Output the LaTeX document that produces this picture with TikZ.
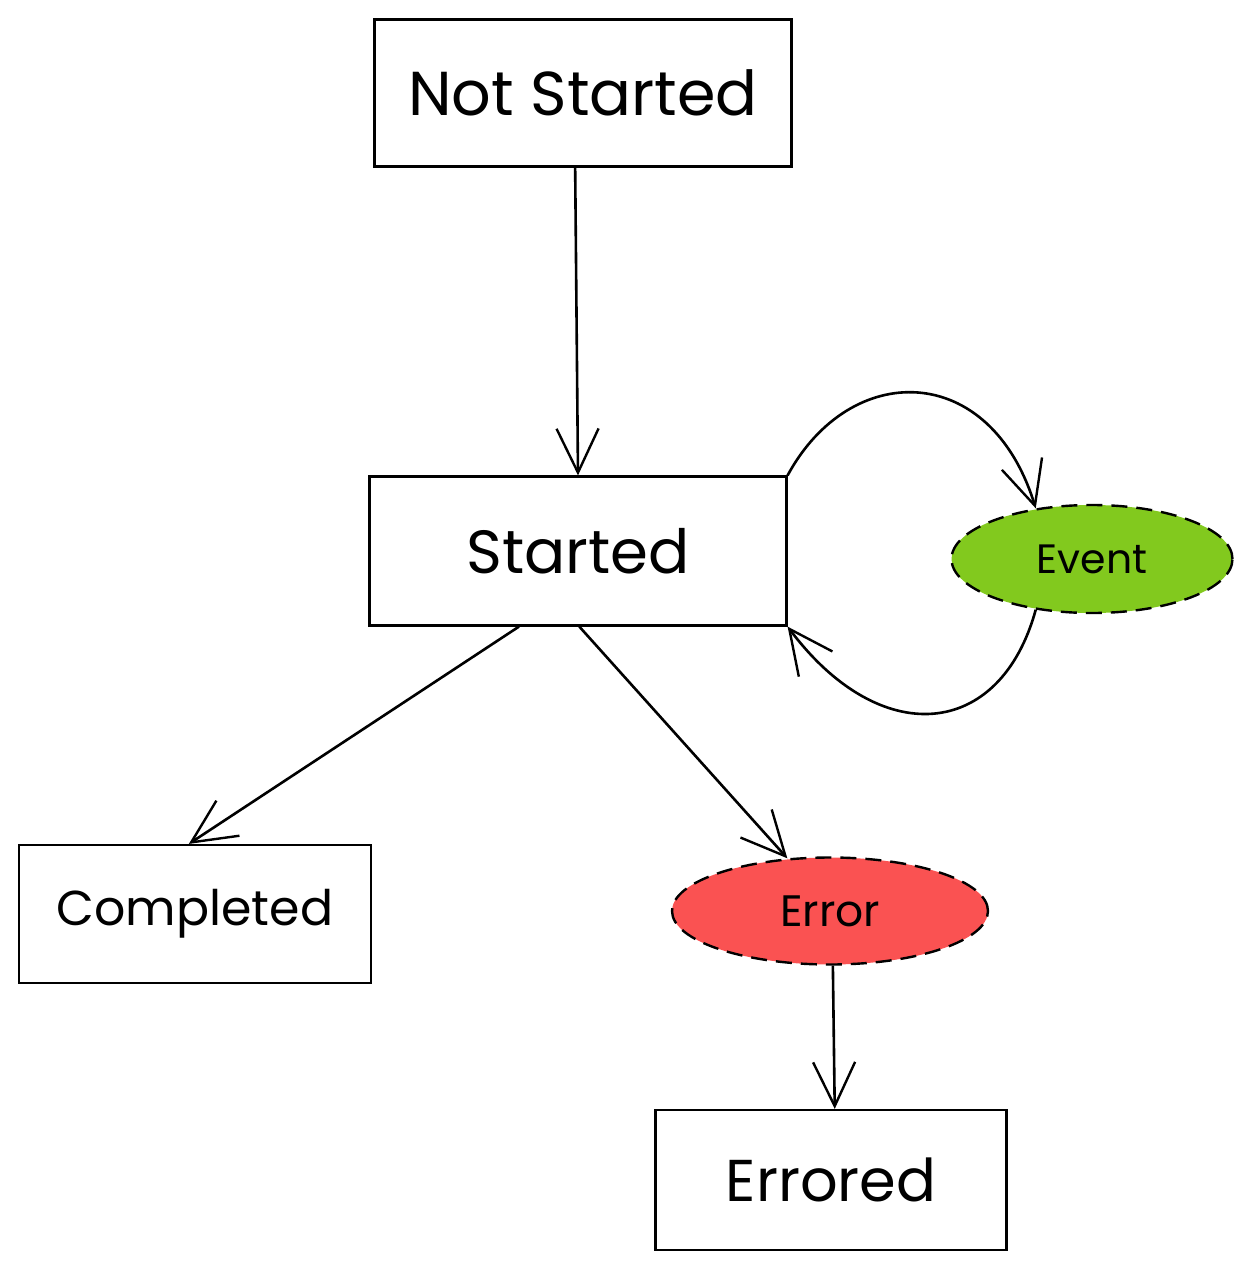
\documentclass[tikz,border=0pt]{standalone}
\usepackage{fontspec}
\setmainfont{Poppins}
\usetikzlibrary{arrows.meta,shapes.geometric}
\definecolor{evgreen}{HTML}{82C91E}
\definecolor{errred}{HTML}{FA5252}
\newcommand{\fsz}[1]{\fontsize{#1}{#1}\selectfont}
\begin{document}
\begin{tikzpicture}[x=1pt,y=-1pt,
  box/.style={draw,line width=2.2pt,rectangle,inner sep=0pt},
  oval/.style={draw,ellipse,line width=2.4pt,dash pattern=on 16pt off 9pt,inner sep=0pt},
  link/.style={line width=2.6pt,-{Straight Barb[length=44pt,width=42pt,line width=2.4pt]}}]
\useasboundingbox (0,0) rectangle (1253,1269);
\node[box,font=\fsz{62},minimum width=417pt,minimum height=147pt] (ns) at (583,93) {Not Started};
\node[box,font=\fsz{61},minimum width=417pt,minimum height=149pt] (st) at (578,551) {Started};
\node[oval,font=\fsz{41},fill=evgreen,minimum width=281pt,minimum height=108pt] (ev) at (1092,559) {Event};
\node[box,font=\fsz{49},minimum width=352pt,minimum height=138pt] (co) at (195,914) {Completed};
\node[oval,font=\fsz{44},fill=errred,minimum width=316pt,minimum height=107pt] (er) at (830,911) {Error};
\node[box,font=\fsz{59},minimum width=351pt,minimum height=140pt] (ed) at (831,1180) {Errored};
\draw[link] (ns.-96) -- (st.north);
\draw[link] (st.north east) .. controls (850,360) and (990,360) .. (ev.138);
\draw[link] (ev.222) .. controls (1000,740) and (880,750) .. (st.south east);
\draw[link] (st.-128) -- (co.95);
\draw[link] (st.-89) -- (er.129);
\draw[link] (er.-87) -- (ed.87);
\end{tikzpicture}
\end{document}
